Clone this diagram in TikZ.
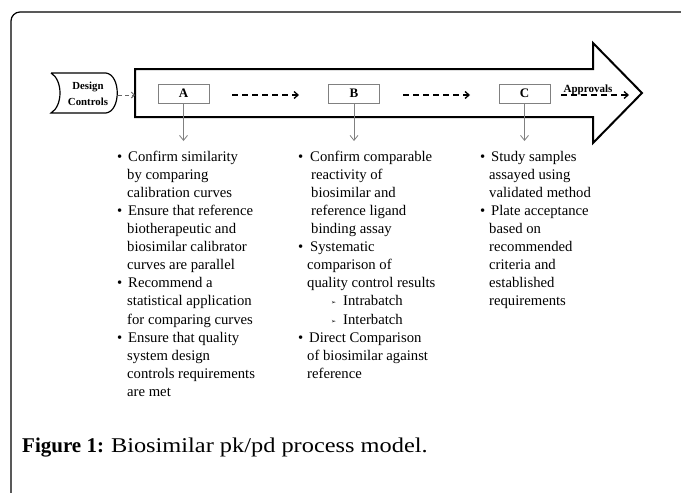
\documentclass[tikz,border=0pt]{standalone}
\usepackage{fontspec}
\setmainfont{Liberation Serif}
\newfontfamily\symfont{DejaVu Sans}
\newfontfamily\capfont[FakeStretch=1.16]{Liberation Serif}
\usetikzlibrary{arrows.meta}
\newcommand\bl{\makebox[11pt][l]{\textbullet}}
\newcommand\sub{{\symfont\fontsize{6}{6}\selectfont\raisebox{1pt}{➢}}}
\tikzset{
  lbox/.style={draw=black!50, line width=0.8pt, minimum width=51pt, minimum height=19pt, inner sep=0pt, font=\fontsize{13}{13}\selectfont\bfseries},
  flow/.style={dashed, dash pattern=on 6pt off 4pt, line width=1.3pt, -{Straight Barb[length=4pt,width=7pt,line width=1.3pt]}},
  down/.style={draw=black!50, line width=0.8pt, -{Straight Barb[length=5pt,width=8pt]}},
  col/.style={anchor=north west, inner sep=0pt, align=left, font=\fontsize{14.7}{18.1}\selectfont},
}
\begin{document}
\begin{tikzpicture}[x=1pt,y=-1pt]
\useasboundingbox (0,0) rectangle (681,493);
\clip (0,0) rectangle (681,493);
% outer frame
\draw[line width=1.2pt, rounded corners=9pt] (11,520) -- (11,12) -- (700,12);
% big arrow
\draw[line width=2pt, line join=miter] (135,69) -- (593,69) -- (593,43) -- (642,93) -- (593,143) -- (593,117) -- (135,117) -- cycle;
% design controls shape
\draw[line width=1.2pt] (51,73) -- (106,73) .. controls (121,75) and (121,111) .. (106,113) -- (51,113) .. controls (63,106) and (63,80) .. (51,73);
\node[align=center, inner sep=0pt, font=\fontsize{10.8}{15.5}\selectfont\bfseries] (dc) at (88,94) {Design\\Controls};
\coordinate (dcR) at (118,95);
\coordinate (arL) at (135,95);
\draw[draw=black!60, line width=1pt, dash pattern=on 4pt off 3pt, -{Straight Barb[length=3pt,width=6pt]}] (dcR) -- (arL);
% boxes
\node[lbox] (A) at (183.5,93.5) {A};
\node[lbox] (B) at (354,93.5) {B};
\node[lbox] (C) at (524.5,93.5) {C};
\coordinate (a1) at (232,95); \coordinate (a2) at (299,95);
\coordinate (b1) at (403,95); \coordinate (b2) at (470,95);
\coordinate (c1) at (561,95); \coordinate (c2) at (629,95);
\draw[flow] (a1) -- (a2);
\draw[flow] (b1) -- (b2);
\draw[flow] (c1) -- (c2);
\node[anchor=base, inner sep=0pt, font=\fontsize{11}{11}\selectfont\bfseries] (appr) at (588,92.5) {Approvals};
% down arrows
\coordinate (Ad) at (183.5,141);
\coordinate (Bd) at (354,141);
\coordinate (Cd) at (524.5,141);
\draw[down] (A.south) -- (Ad);
\draw[down] (B.south) -- (Bd);
\draw[down] (C.south) -- (Cd);
% columns
\node[col] (colA) at (117,148.3) {\strut\bl Confirm similarity\\
\hspace*{10pt}by comparing\\
\hspace*{10pt}calibration curves\\
\bl Ensure that reference\\
\hspace*{10pt}biotherapeutic and\\
\hspace*{10pt}biosimilar calibrator\\
\hspace*{10pt}curves are parallel\\
\bl Recommend a\\
\hspace*{10pt}statistical application\\
\hspace*{10pt}for comparing curves\\
\bl Ensure that quality\\
\hspace*{10pt}system design\\
\hspace*{10pt}controls requirements\\
\hspace*{10pt}are met};
\node[col] (colB) at (298,148.3) {\strut\makebox[12pt][l]{\textbullet}Confirm comparable\\
\hspace*{13pt}reactivity of\\
\hspace*{13pt}biosimilar and\\
\hspace*{13pt}reference ligand\\
\hspace*{13pt}binding assay\\
\makebox[12pt][l]{\textbullet}Systematic\\
\hspace*{9pt}comparison of\\
\hspace*{9pt}quality control results\\
\hspace*{33pt}\makebox[12pt][l]{\sub}Intrabatch\\
\hspace*{33pt}\makebox[12pt][l]{\sub}Interbatch\\
\makebox[11pt][l]{\textbullet}Direct Comparison\\
\hspace*{9pt}of biosimilar against\\
\hspace*{9pt}reference};
\node[col] (colC) at (480,148.3) {\strut\bl Study samples\\
\hspace*{9pt}assayed using\\
\hspace*{9pt}validated method\\
\bl Plate acceptance\\
\hspace*{9pt}based on\\
\hspace*{9pt}recommended\\
\hspace*{9pt}criteria and\\
\hspace*{9pt}established\\
\hspace*{9pt}requirements};
% caption
\node[anchor=base west, inner sep=0pt, font=\fontsize{21}{21}\selectfont] (cap) at (22,452) {\textbf{Figure 1:} {\capfont Biosimilar pk/pd process model.}};
\end{tikzpicture}
\end{document}
